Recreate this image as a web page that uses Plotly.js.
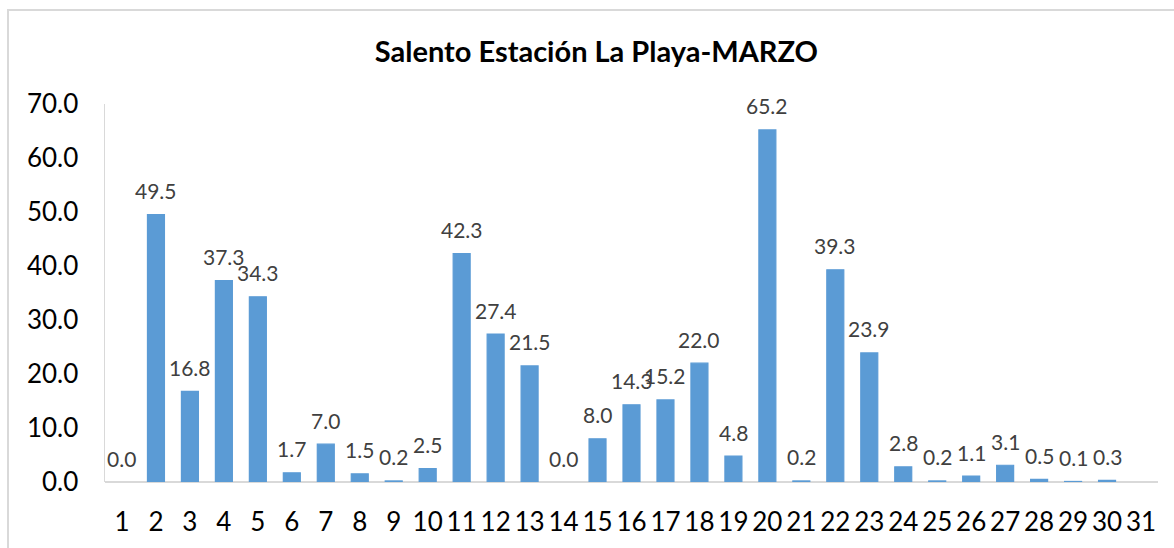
<!DOCTYPE html>
<html>
<head>
<meta charset="utf-8">
<script src="https://cdn.plot.ly/plotly-3.0.1.min.js"></script>
<style>
html,body{margin:0;padding:0;background:#fff;}
#chart{width:1174px;height:548px;}
</style>
</head>
<body>
<div id="chart"></div>
<script>
const days = ["1","2","3","4","5","6","7","8","9","10","11","12","13","14","15","16","17","18","19","20","21","22","23","24","25","26","27","28","29","30","31"];
const rain = [0.0,49.5,16.8,37.3,34.3,1.7,7.0,1.5,0.2,2.5,42.3,27.4,21.5,0.0,8.0,14.3,15.2,22.0,4.8,65.2,0.2,39.3,23.9,2.8,0.2,1.1,3.1,0.5,0.1,0.3,null];
const yTicks = [0,10,20,30,40,50,60,70];
const titleText = "Salento Estación La Playa-MARZO";

const annotations = [];
days.forEach((d,i)=>{
  if (rain[i] === null) return;
  annotations.push({
    x: i, y: rain[i], xref:'x', yref:'y',
    text: rain[i].toFixed(1), showarrow:false,
    yanchor:'middle', yshift:24,
    font:{family:'Lato', size:21, color:'#404040'}
  });
});

const trace = {
  type:'bar', x: days, y: rain,
  marker:{color:'#5b9bd5',
          line:{color:'#5b9bd5', width:rain.map(v => (v ? 1.2 : 0))}},
  hoverinfo:'skip'
};

const layout = {
  width:1174, height:548,
  margin:{l:105, r:16, t:104, b:66},
  paper_bgcolor:'#ffffff', plot_bgcolor:'#ffffff',
  showlegend:false,
  bargap:0.5,
  title:{text:titleText, x:0.508, xanchor:'center', y:0.905, yanchor:'middle',
         font:{family:'Lato', size:29, color:'#000000', weight:'bold'}},
  xaxis:{type:'category', categoryarray:days, showgrid:false, zeroline:false,
         showline:false, ticks:'', ticklabelstandoff:22,
         tickfont:{family:'Lato', size:26, color:'#000000'}},
  yaxis:{range:[0,70], tickvals:yTicks, ticktext:yTicks.map(v=>v.toFixed(1)),
         showgrid:false, zeroline:true, zerolinecolor:'#d9d9d9', zerolinewidth:1.5,
         showline:true, linecolor:'#d9d9d9', linewidth:1.5, ticks:'',
         ticklabelstandoff:20,
         tickfont:{family:'Lato', size:26, color:'#000000'}},
  annotations: annotations,
  shapes:[{type:'rect', xref:'paper', yref:'paper',
           x0:-0.0921, x1:1.2, y0:-0.5, y1:1.2487,
           line:{color:'#d9d9d9', width:2}, fillcolor:'rgba(0,0,0,0)'}]
};

Plotly.newPlot('chart',[trace],layout,{displayModeBar:false, staticPlot:true});
</script>
</body>
</html>
